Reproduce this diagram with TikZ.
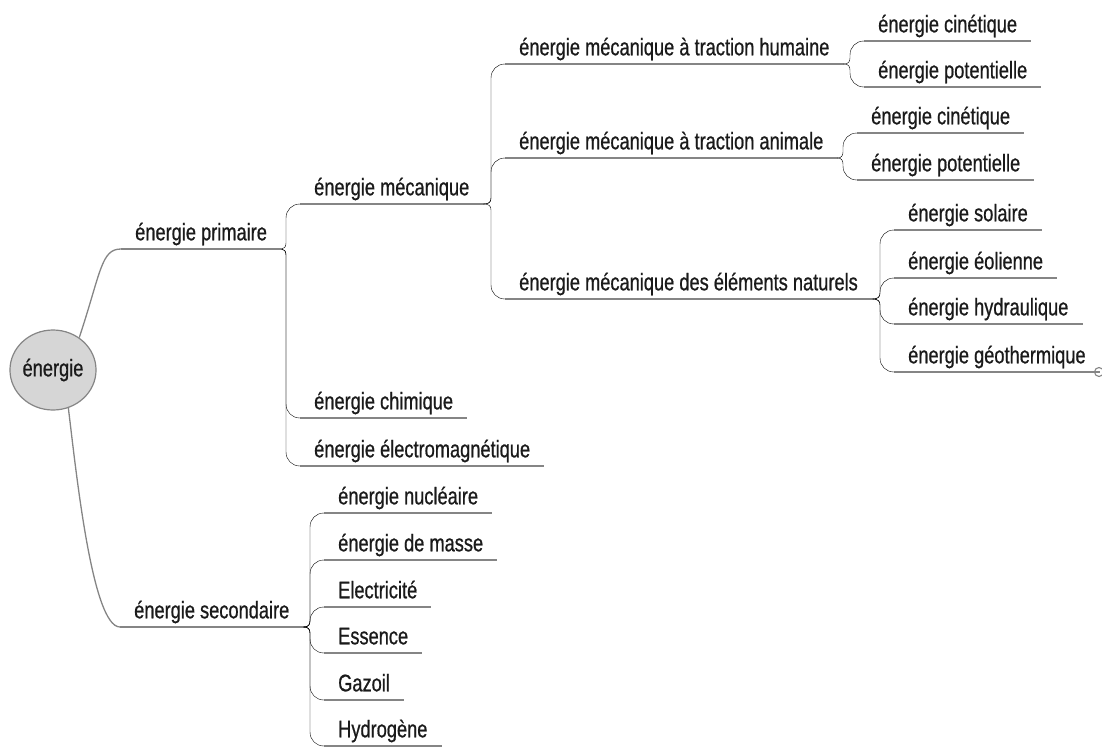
\documentclass[tikz,border=0pt]{standalone}
\usepackage{fontspec}
\setmainfont[FakeStretch=0.76,FakeBold=0.7]{Liberation Sans}
\usetikzlibrary{calc,shapes.geometric}
\definecolor{txt}{HTML}{1A1A1A}
\definecolor{lnc}{HTML}{858585}
\definecolor{rootfill}{HTML}{D6D6D6}
\begin{document}
\begin{tikzpicture}[x=1pt,y=-1pt,
  lbl/.style={anchor=south west, inner xsep=14pt, inner ysep=3.5pt,
    text height=18pt, text depth=5pt, font=\fontsize{24}{28}\selectfont, text=txt},
  ln/.style={draw=lnc, line width=1.3pt},
  conn/.style={ln, to path={let \p1=(\tikztostart), \p2=(\tikztotarget),
      \n1={ifthenelse(\y2>\y1,1,-1)} in
      (\p1) .. controls (\x2-16pt,\y1) and (\x2-14pt,\y1+\n1*2pt) .. (\x2-14pt,\y1+\n1*6pt)
      -- (\x2-14pt,\y2-\n1*14pt)
      .. controls (\x2-14pt,\y2-\n1*6pt) and (\x2-8pt,\y2) .. (\p2)}}]
\useasboundingbox (0,0) rectangle (1102,747);

\node[ellipse, draw=lnc, line width=1.2pt, fill=rootfill, minimum width=86pt, minimum height=80pt,
  inner sep=0pt, font=\fontsize{24}{28}\selectfont, text=txt] (root) at (53,370) {énergie};

\node[lbl] (prim) at (121,249) {énergie primaire};
\node[lbl] (mec) at (300,204) {énergie mécanique};
\node[lbl] (hum) at (505,64) {énergie mécanique à traction humaine};
\node[lbl] (ani) at (505,158) {énergie mécanique à traction animale};
\node[lbl] (nat) at (505,299) {énergie mécanique des éléments naturels};
\node[lbl] (cin1) at (864,41) {énergie cinétique};
\node[lbl] (pot1) at (864,87) {énergie potentielle};
\node[lbl] (cin2) at (857,133) {énergie cinétique};
\node[lbl] (pot2) at (857,180) {énergie potentielle};
\node[lbl] (sol) at (894,230) {énergie solaire};
\node[lbl] (eol) at (894,278) {énergie éolienne};
\node[lbl] (hyd) at (894,324) {énergie hydraulique};
\node[lbl] (geo) at (894,372) {énergie géothermique};
\node[lbl] (chi) at (300,418) {énergie chimique};
\node[lbl] (ele) at (300,466) {énergie électromagnétique};
\node[lbl] (sec) at (120,627) {énergie secondaire};
\node[lbl] (nuc) at (324,513) {énergie nucléaire};
\node[lbl] (mas) at (324,560) {énergie de masse};
\node[lbl] (elc) at (324,607) {Electricité};
\node[lbl] (ess) at (324,653) {Essence};
\node[lbl] (gaz) at (324,700) {Gazoil};
\node[lbl] (hyg) at (324,746) {Hydrogène};
\node[circle, draw=lnc, line width=1.1pt, fill=white, inner sep=0pt, minimum size=9pt] (geoc) at (1099,372) {};

\foreach \n in {prim,mec,hum,ani,nat,cin1,pot1,cin2,pot2,sol,eol,hyd,geo,chi,ele,sec,nuc,mas,elc,ess,gaz,hyg}
  \draw[ln] (\n.south west) -- (\n.south east);
\draw[ln] (geo.south east) -- (geoc.west);

\draw[ln] (root.51) .. controls (101,272) and (101,249) .. (prim.south west);
\draw[ln] (root.-68) .. controls (76,470) and (92,627) .. (sec.south west);

\foreach \a/\b in {prim/mec,prim/chi,prim/ele,
  mec/hum,mec/ani,mec/nat,
  hum/cin1,hum/pot1,ani/cin2,ani/pot2,
  nat/sol,nat/eol,nat/hyd,nat/geo,
  sec/nuc,sec/mas,sec/elc,sec/ess,sec/gaz,sec/hyg}
  \draw (\a.south east) to[conn] (\b.south west);
\end{tikzpicture}
\end{document}
